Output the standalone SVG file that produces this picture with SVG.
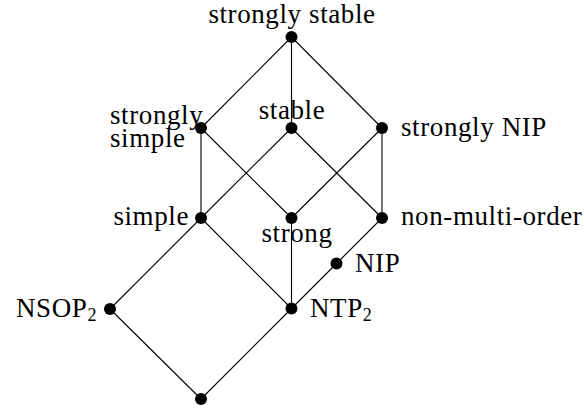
<svg xmlns="http://www.w3.org/2000/svg" width="584" height="414" viewBox="0 0 584 414">
<style>
text{font-family:"Liberation Serif","Times New Roman",serif;font-size:27px;letter-spacing:0.6px;fill:#000}
.e line{stroke:#000;stroke-width:1.1}
.n circle{fill:#000}
.sub{font-size:18px}
</style>
<rect width="584" height="414" fill="#fff"/>
<g class="e" id="connectors">
<line x1="291.5" y1="37" x2="201" y2="128"/>
<line x1="291.5" y1="37" x2="291.5" y2="128"/>
<line x1="291.5" y1="37" x2="382" y2="128"/>
<line x1="201" y1="128" x2="201" y2="218"/>
<line x1="201" y1="128" x2="291.5" y2="218"/>
<line x1="291.5" y1="128" x2="201" y2="218"/>
<line x1="291.5" y1="128" x2="382" y2="218"/>
<line x1="382" y1="128" x2="291.5" y2="218"/>
<line x1="382" y1="128" x2="382" y2="218"/>
<line x1="201" y1="218" x2="110" y2="309"/>
<line x1="201" y1="218" x2="291.5" y2="308.5"/>
<line x1="291.5" y1="218" x2="291.5" y2="308.5"/>
<line x1="382" y1="218" x2="336.5" y2="263.5"/>
<line x1="336.5" y1="263.5" x2="291.5" y2="308.5"/>
<line x1="110" y1="309" x2="201" y2="399"/>
<line x1="291.5" y1="308.5" x2="201" y2="399"/>
</g>
<g class="n" id="strongly-stable"><circle cx="291.5" cy="37" r="6"/><text x="292" y="23" text-anchor="middle">strongly stable</text></g>
<g class="n" id="strongly-simple"><circle cx="201" cy="128" r="6"/><text><tspan x="110" y="124">strongly</tspan><tspan x="110" y="147">simple</tspan></text></g>
<g class="n" id="stable"><circle cx="291.5" cy="128" r="6"/><text x="292" y="119" text-anchor="middle">stable</text></g>
<g class="n" id="strongly-nip"><circle cx="382" cy="128" r="6"/><text x="401" y="136">strongly NIP</text></g>
<g class="n" id="simple"><circle cx="201" cy="218" r="6"/><text x="189" y="225" text-anchor="end">simple</text></g>
<g class="n" id="strong"><circle cx="291.5" cy="218" r="6"/><text x="297" y="242" text-anchor="middle">strong</text></g>
<g class="n" id="non-multi-order"><circle cx="382" cy="218" r="6"/><text x="401" y="225">non-multi-order</text></g>
<g class="n" id="nip"><circle cx="336.5" cy="263.5" r="6"/><text x="355" y="272">NIP</text></g>
<g class="n" id="nsop2"><circle cx="110" cy="309" r="6"/><text x="97" y="317" text-anchor="end">NSOP<tspan class="sub" dy="4">2</tspan></text></g>
<g class="n" id="ntp2"><circle cx="291.5" cy="308.5" r="6"/><text x="310" y="317">NTP<tspan class="sub" dy="4">2</tspan></text></g>
<g class="n" id="bottom"><circle cx="201" cy="399" r="6"/></g>
</svg>
